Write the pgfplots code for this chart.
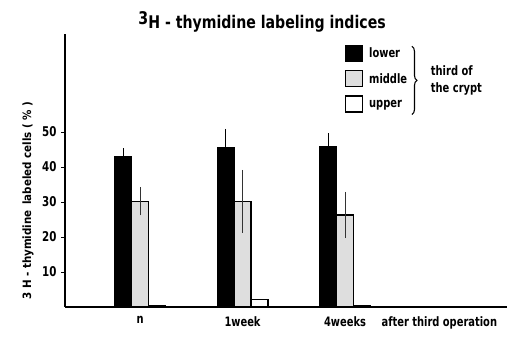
\documentclass[border=0pt]{standalone}
\usepackage{pgfplots}
\pgfplotsset{compat=1.18}
\usepackage{fontspec}
\setmainfont{DejaVu Sans Condensed}
\newfontfamily\nf{DejaVu Sans Condensed}[FakeStretch=0.85]
\newfontfamily\tf{DejaVu Sans Condensed}[FakeStretch=0.9]
\usetikzlibrary{decorations.pathreplacing}
\begin{document}
\begin{tikzpicture}
\pgfplotstableread{
x y err
1 43.1 2.3
2 45.4 5.5
3 45.7 4.0
}\tabLower
\pgfplotstableread{
x y err
1 30.2 4.0
2 30.2 9.0
3 26.3 6.6
}\tabMiddle
\pgfplotstableread{
x y err
1 0.5 0
2 2.2 0
3 0.5 0
}\tabUpper
\begin{axis}[
  width=442bp, height=273bp, scale only axis,
  xmin=0.268, xmax=4.58, ymin=0, ymax=78,
  axis x line=bottom, axis y line=left,
  axis line style={line width=1.6pt, -},
  ybar=0pt, bar width=0.165,
  xtick={1,2,3,3.92},
  xticklabels={n,1week,4weeks,after third operation},
  x tick style={draw=none},
  ytick={10,20,30,40,50},
  y tick style={line width=0.8pt, black},
  tick align=outside,
  major tick length=4bp,
  /pgf/number format/assume math mode=true,
  yticklabel style={font=\nf\bfseries\fontsize{13.5}{14}\selectfont, xshift=-1bp},
  xticklabel style={font=\nf\bfseries\fontsize{13}{14}\selectfont, yshift=-2bp},
  ylabel={3 H - thymidine\enspace labeled cells ( \% )},
  ylabel style={at={(rel axis cs:-0.084,0.39)}, anchor=center, font=\bfseries\fontsize{11.5}{12}\selectfont},
  legend style={at={(rel axis cs:0.632,0.968)}, anchor=north west, draw=none, fill=none,
    font=\nf\bfseries\fontsize{13}{13}\selectfont, row sep=8bp, inner xsep=0pt},
  legend cell align=left,
  legend image code/.code={\draw[#1, line width=1.3pt] (0bp,-8bp) rectangle (17bp,8bp);
    \path[draw=none, fill=none] (17bp,0bp) -- (22bp,0bp);},
  clip=false,
]
\addplot[fill=black, draw=black, line width=1.2pt,
  error bars/.cd, y dir=both, y explicit, error mark=none,
  error bar style={line width=0.9pt, black}]
  table[x=x, y=y, y error=err] {\tabLower};
\addlegendentry{lower}
\addplot[fill=black!13, draw=black, line width=1.2pt,
  error bars/.cd, y dir=both, y explicit, error mark=none,
  error bar style={line width=0.9pt, black!80}]
  table[x=x, y=y, y error=err] {\tabMiddle};
\addlegendentry{middle}
\addplot[fill=white, draw=black, line width=1.2pt]
  table[x=x, y=y] {\tabUpper};
\addlegendentry{upper}
\draw[decorate, decoration={brace, amplitude=5bp}, line width=1.1pt]
  (rel axis cs:0.785,0.955) -- (rel axis cs:0.785,0.705);
\node[anchor=west, align=left, font=\nf\bfseries\fontsize{13}{17}\selectfont]
  at (rel axis cs:0.82,0.83) {third of\\the crypt};
\node[font=\tf\bfseries\fontsize{17.5}{18}\selectfont]
  at (rel axis cs:0.446,1.044) {\raisebox{4.5bp}{3}H - thymidine labeling indices};
\coordinate (bl) at (rel axis cs:-0.1471,-0.1282);
\coordinate (tr) at (rel axis cs:1.0204,1.1245);
\end{axis}
\pgfresetboundingbox
\path (bl) rectangle (tr);
\end{tikzpicture}
\end{document}
